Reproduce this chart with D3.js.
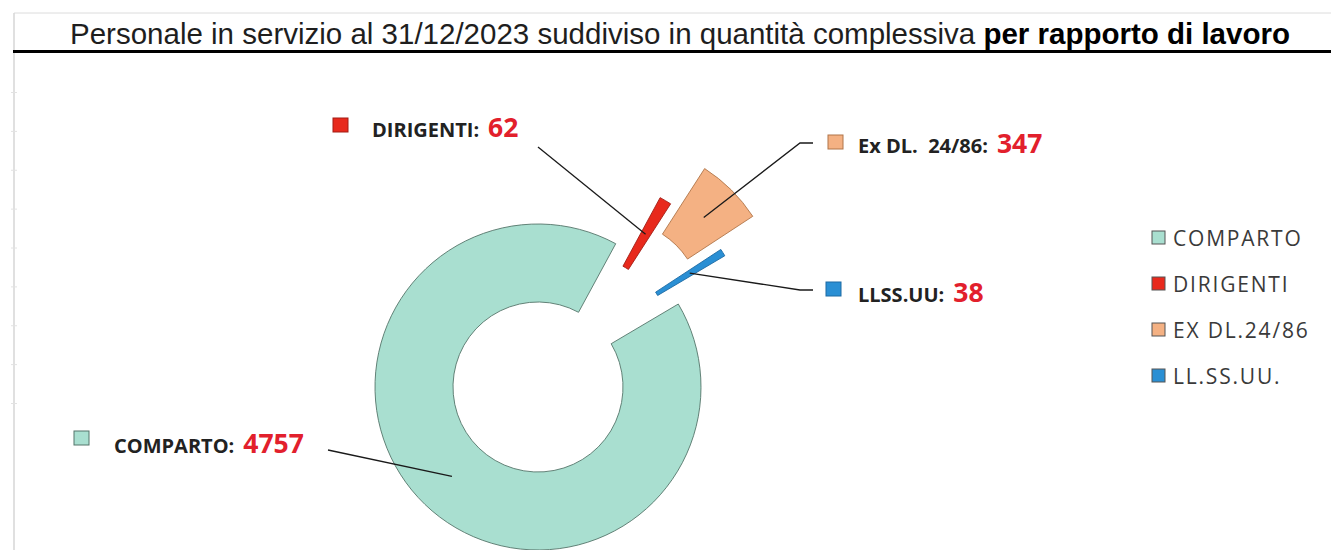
<html>
<head>
<meta charset="utf-8">
<title>Personale in servizio</title>
<style>
    body { margin: 0; padding: 0; background: white; }
    svg text { font-family: "Open Sans", sans-serif; }
</style>
</head>
<body>
<div id="chart"></div>
<script src="https://d3js.org/d3.v7.min.js"></script>
<script>
// data
var categories = ["COMPARTO", "DIRIGENTI", "EX DL.24/86", "LL.SS.UU."];
var calloutNames = ["COMPARTO:", "DIRIGENTI:", "Ex DL.  24/86:", "LLSS.UU:"];
var values = [4757, 62, 347, 38];
var titleNormal = "Personale in servizio al 31/12/2023 suddiviso in quantità complessiva ";
var titleBold = "per rapporto di lavoro";

var colors = ["#a9dfd0", "#e8291c", "#f4b183", "#2a8fd4"];
var strokes = ["#55756a", "#a31d14", "#b07548", "#1d6aa3"];

var width = 1331, height = 550;
var cx = 538, cy = 387, rIn = 85, rOut = 163;
var explode = [0, 64, 113, 67];   // push of each slice, px

// callout layout: square box and text baseline, leader start
var callouts = [
    { sq: [74, 431], tx: [114, 453], from: [[328, 450]] },
    { sq: [333, 118], tx: [372, 137], from: [[538, 147]] },
    { sq: [828, 135], tx: [858, 153], from: [[813, 143], [800, 143]] },
    { sq: [826, 282], tx: [858, 302], from: [[813, 290], [800, 290]] }
];

var svg = d3.select("#chart").append("svg")
    .attr("width", width)
    .attr("height", height);

// frame lines
svg.append("line").attr("x1", 14).attr("x2", width).attr("y1", 13).attr("y2", 13)
    .attr("stroke", "#dcdcdc").attr("stroke-width", 1);
svg.append("line").attr("x1", 14).attr("x2", 14).attr("y1", 13).attr("y2", height)
    .attr("stroke", "#d6d6d6").attr("stroke-width", 1.5);

var tickScale = d3.scaleLinear().domain([0, 8]).range([403, 92]);
svg.append("g")
    .attr("transform", "translate(17,0)")
    .call(d3.axisLeft(tickScale).ticks(8).tickSize(6).tickFormat(""))
    .call(function (g) {
        g.select(".domain").remove();
        g.selectAll("line").attr("stroke", "#e2e2e2");
    });

// title
var title = svg.append("text")
    .attr("x", 680)
    .attr("y", 44)
    .attr("text-anchor", "middle")
    .style("font-family", "'Liberation Sans', Arial, sans-serif")
    .style("font-size", "29.5px")
    .attr("fill", "#1e1e1e");
title.append("tspan").text(titleNormal);
title.append("tspan").attr("font-weight", "bold").attr("fill", "#000").text(titleBold);

svg.append("line").attr("x1", 13).attr("x2", width).attr("y1", 51.5).attr("y2", 51.5)
    .attr("stroke", "#000").attr("stroke-width", 3);

// pie
var pie = d3.pie().sort(null)
    .startAngle(59.4 * Math.PI / 180)
    .endAngle(59.4 * Math.PI / 180 + 2 * Math.PI);
var arcs = pie(values);
var arc = d3.arc().innerRadius(rIn).outerRadius(rOut);

// small slices are pushed out together along the middle of their group
var groupMid = (arcs[1].startAngle + arcs[3].endAngle) / 2;
function shift(i) {
    var a = i === 0 ? (arcs[0].startAngle + arcs[0].endAngle) / 2 : groupMid;
    return [Math.sin(a) * explode[i], -Math.cos(a) * explode[i]];
}

var g = svg.append("g").attr("transform", "translate(" + cx + "," + cy + ")");

g.selectAll("path.slice")
    .data(arcs)
    .enter()
    .append("path")
    .attr("class", "slice")
    .attr("d", arc)
    .attr("transform", function (d, i) { return "translate(" + shift(i) + ")"; })
    .attr("fill", function (d, i) { return colors[i]; })
    .attr("stroke", function (d, i) { return strokes[i]; })
    .attr("stroke-width", 0.9)
    .attr("stroke-linejoin", "round");

// leader lines
var line = d3.line();
arcs.forEach(function (d, i) {
    var c = arc.centroid(d), s = shift(i);
    var end = [cx + c[0] + s[0], cy + c[1] + s[1]];
    svg.append("path")
        .attr("d", line(callouts[i].from.concat([end])))
        .attr("fill", "none")
        .attr("stroke", "#1a1a1a")
        .attr("stroke-width", 1.3);
});

// callout labels
callouts.forEach(function (c, i) {
    svg.append("rect")
        .attr("x", c.sq[0]).attr("y", c.sq[1])
        .attr("width", 15).attr("height", 14)
        .attr("fill", colors[i])
        .attr("stroke", strokes[i]).attr("stroke-width", 1);
    var name = svg.append("text")
        .attr("x", c.tx[0]).attr("y", c.tx[1])
        .style("font-size", "20px").style("font-weight", "bold")
        .attr("fill", "#222")
        .style("white-space", "pre")
        .text(calloutNames[i]);
    var w = name.node().getComputedTextLength();
    svg.append("text")
        .attr("x", c.tx[0] + w + 9).attr("y", c.tx[1])
        .style("font-size", "26.5px").style("font-weight", "bold")
        .attr("fill", "#e2202c")
        .text(values[i]);
});

// legend
var legendY = d3.scalePoint().domain(categories).range([238, 376]);
var legend = svg.append("g").selectAll("g")
    .data(categories)
    .enter()
    .append("g")
    .attr("transform", function (d) { return "translate(1152," + legendY(d) + ")"; });
legend.append("rect")
    .attr("x", 0).attr("y", -7)
    .attr("width", 13).attr("height", 13)
    .attr("fill", function (d, i) { return colors[i]; })
    .attr("stroke", "#555").attr("stroke-width", 1);
legend.append("text")
    .attr("x", 21).attr("y", 7.5)
    .style("font-size", "21px")
    .style("letter-spacing", "1.8px")
    .attr("fill", "#3a3a3a")
    .text(function (d) { return d; });
</script>
</body>
</html>
